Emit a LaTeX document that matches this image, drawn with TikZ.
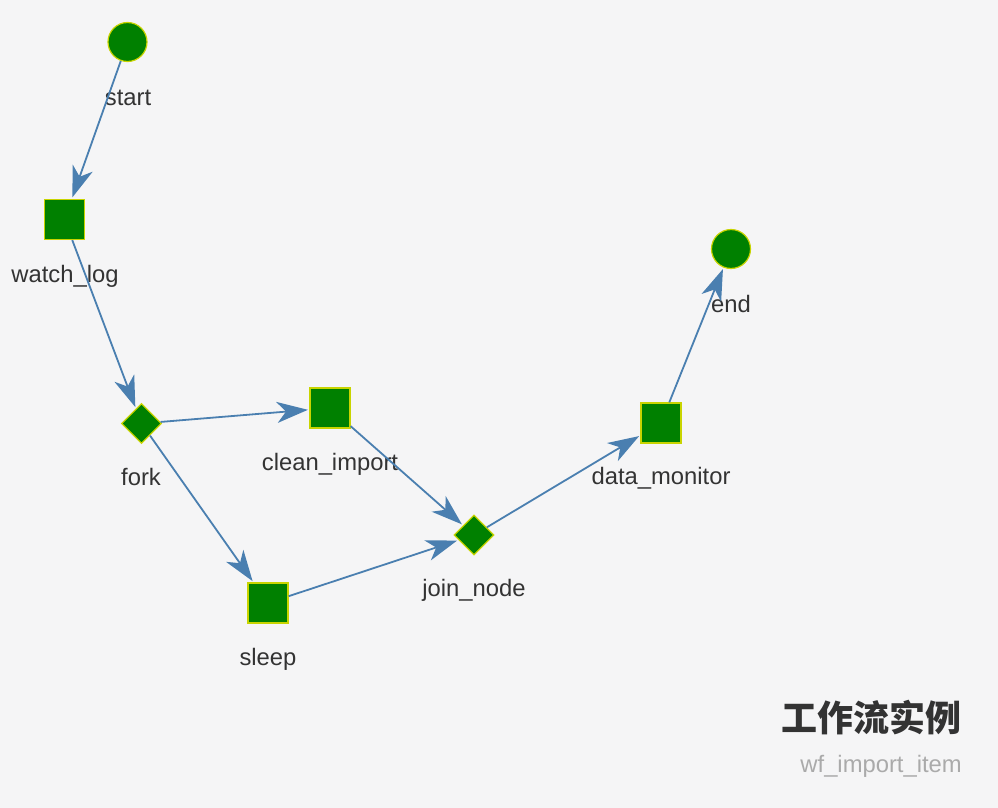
\documentclass[tikz,border=0pt]{standalone}
\usepackage{fontspec}
\setmainfont{Liberation Sans}
\newfontfamily\cjk{Noto Sans CJK SC}
\usetikzlibrary{shapes.geometric,arrows.meta}
\definecolor{bgpaper}{HTML}{F5F5F6}
\definecolor{nodegreen}{HTML}{008000}
\definecolor{nodeedge}{HTML}{C8D400}
\definecolor{linkblue}{HTML}{4A7FB0}
\definecolor{labelgray}{HTML}{333333}
\definecolor{subgray}{HTML}{AAAAAA}
\begin{document}
\begin{tikzpicture}[
  x=1pt, y=-1pt,
  base/.style={draw=nodeedge, fill=nodegreen, line width=1.2pt, inner sep=0pt},
  terminal/.style={base, circle, minimum size=39pt},
  task/.style={base, rectangle, minimum size=40pt},
  gate/.style={base, diamond, aspect=1, minimum size=40pt},
  lbl/.style={anchor=base, inner sep=0pt, text=labelgray, font=\fontsize{23.8}{28}\selectfont},
  link/.style={draw=linkblue, line width=1.8pt, shorten >=1.5pt, -{Stealth[length=31pt, width=21pt, inset=9pt]}}
]
\fill[bgpaper] (0,0) rectangle (998,808);
\node[terminal] (start) at (127.5,42) {};
\node[task] (watch_log) at (64.5,219.5) {};
\node[gate] (fork) at (141.5,423.5) {};
\node[task] (clean_import) at (330,408) {};
\node[task] (sleep) at (268,603) {};
\node[gate] (join_node) at (474,535) {};
\node[task] (data_monitor) at (661,423) {};
\node[terminal] (end) at (731,249) {};

\node[lbl] (start_l) at (128,105) {start};
\node[lbl] (watch_log_l) at (65,282) {watch\_log};
\node[lbl] (fork_l) at (141,485) {fork};
\node[lbl] (clean_import_l) at (330,470) {clean\_import};
\node[lbl] (sleep_l) at (268,665) {sleep};
\node[lbl] (join_node_l) at (474,596) {join\_node};
\node[lbl] (data_monitor_l) at (661,484) {data\_monitor};
\node[lbl] (end_l) at (731,312) {end};

\draw[link] (start) -- (watch_log);
\draw[link] (watch_log) -- (fork);
\draw[link] (fork) -- (clean_import);
\draw[link] (fork) -- (sleep);
\draw[link] (clean_import) -- (join_node);
\draw[link] (sleep) -- (join_node);
\draw[link] (join_node) -- (data_monitor);
\draw[link] (data_monitor) -- (end);

\node[anchor=east, inner sep=0pt, text=labelgray, font=\cjk\bfseries\fontsize{36}{40}\selectfont] (title) at (962,718) {工作流实例};
\node[anchor=base east, inner sep=0pt, text=subgray, font=\fontsize{23.8}{28}\selectfont] (subtitle) at (962,772) {wf\_import\_item};
\end{tikzpicture}
\end{document}
